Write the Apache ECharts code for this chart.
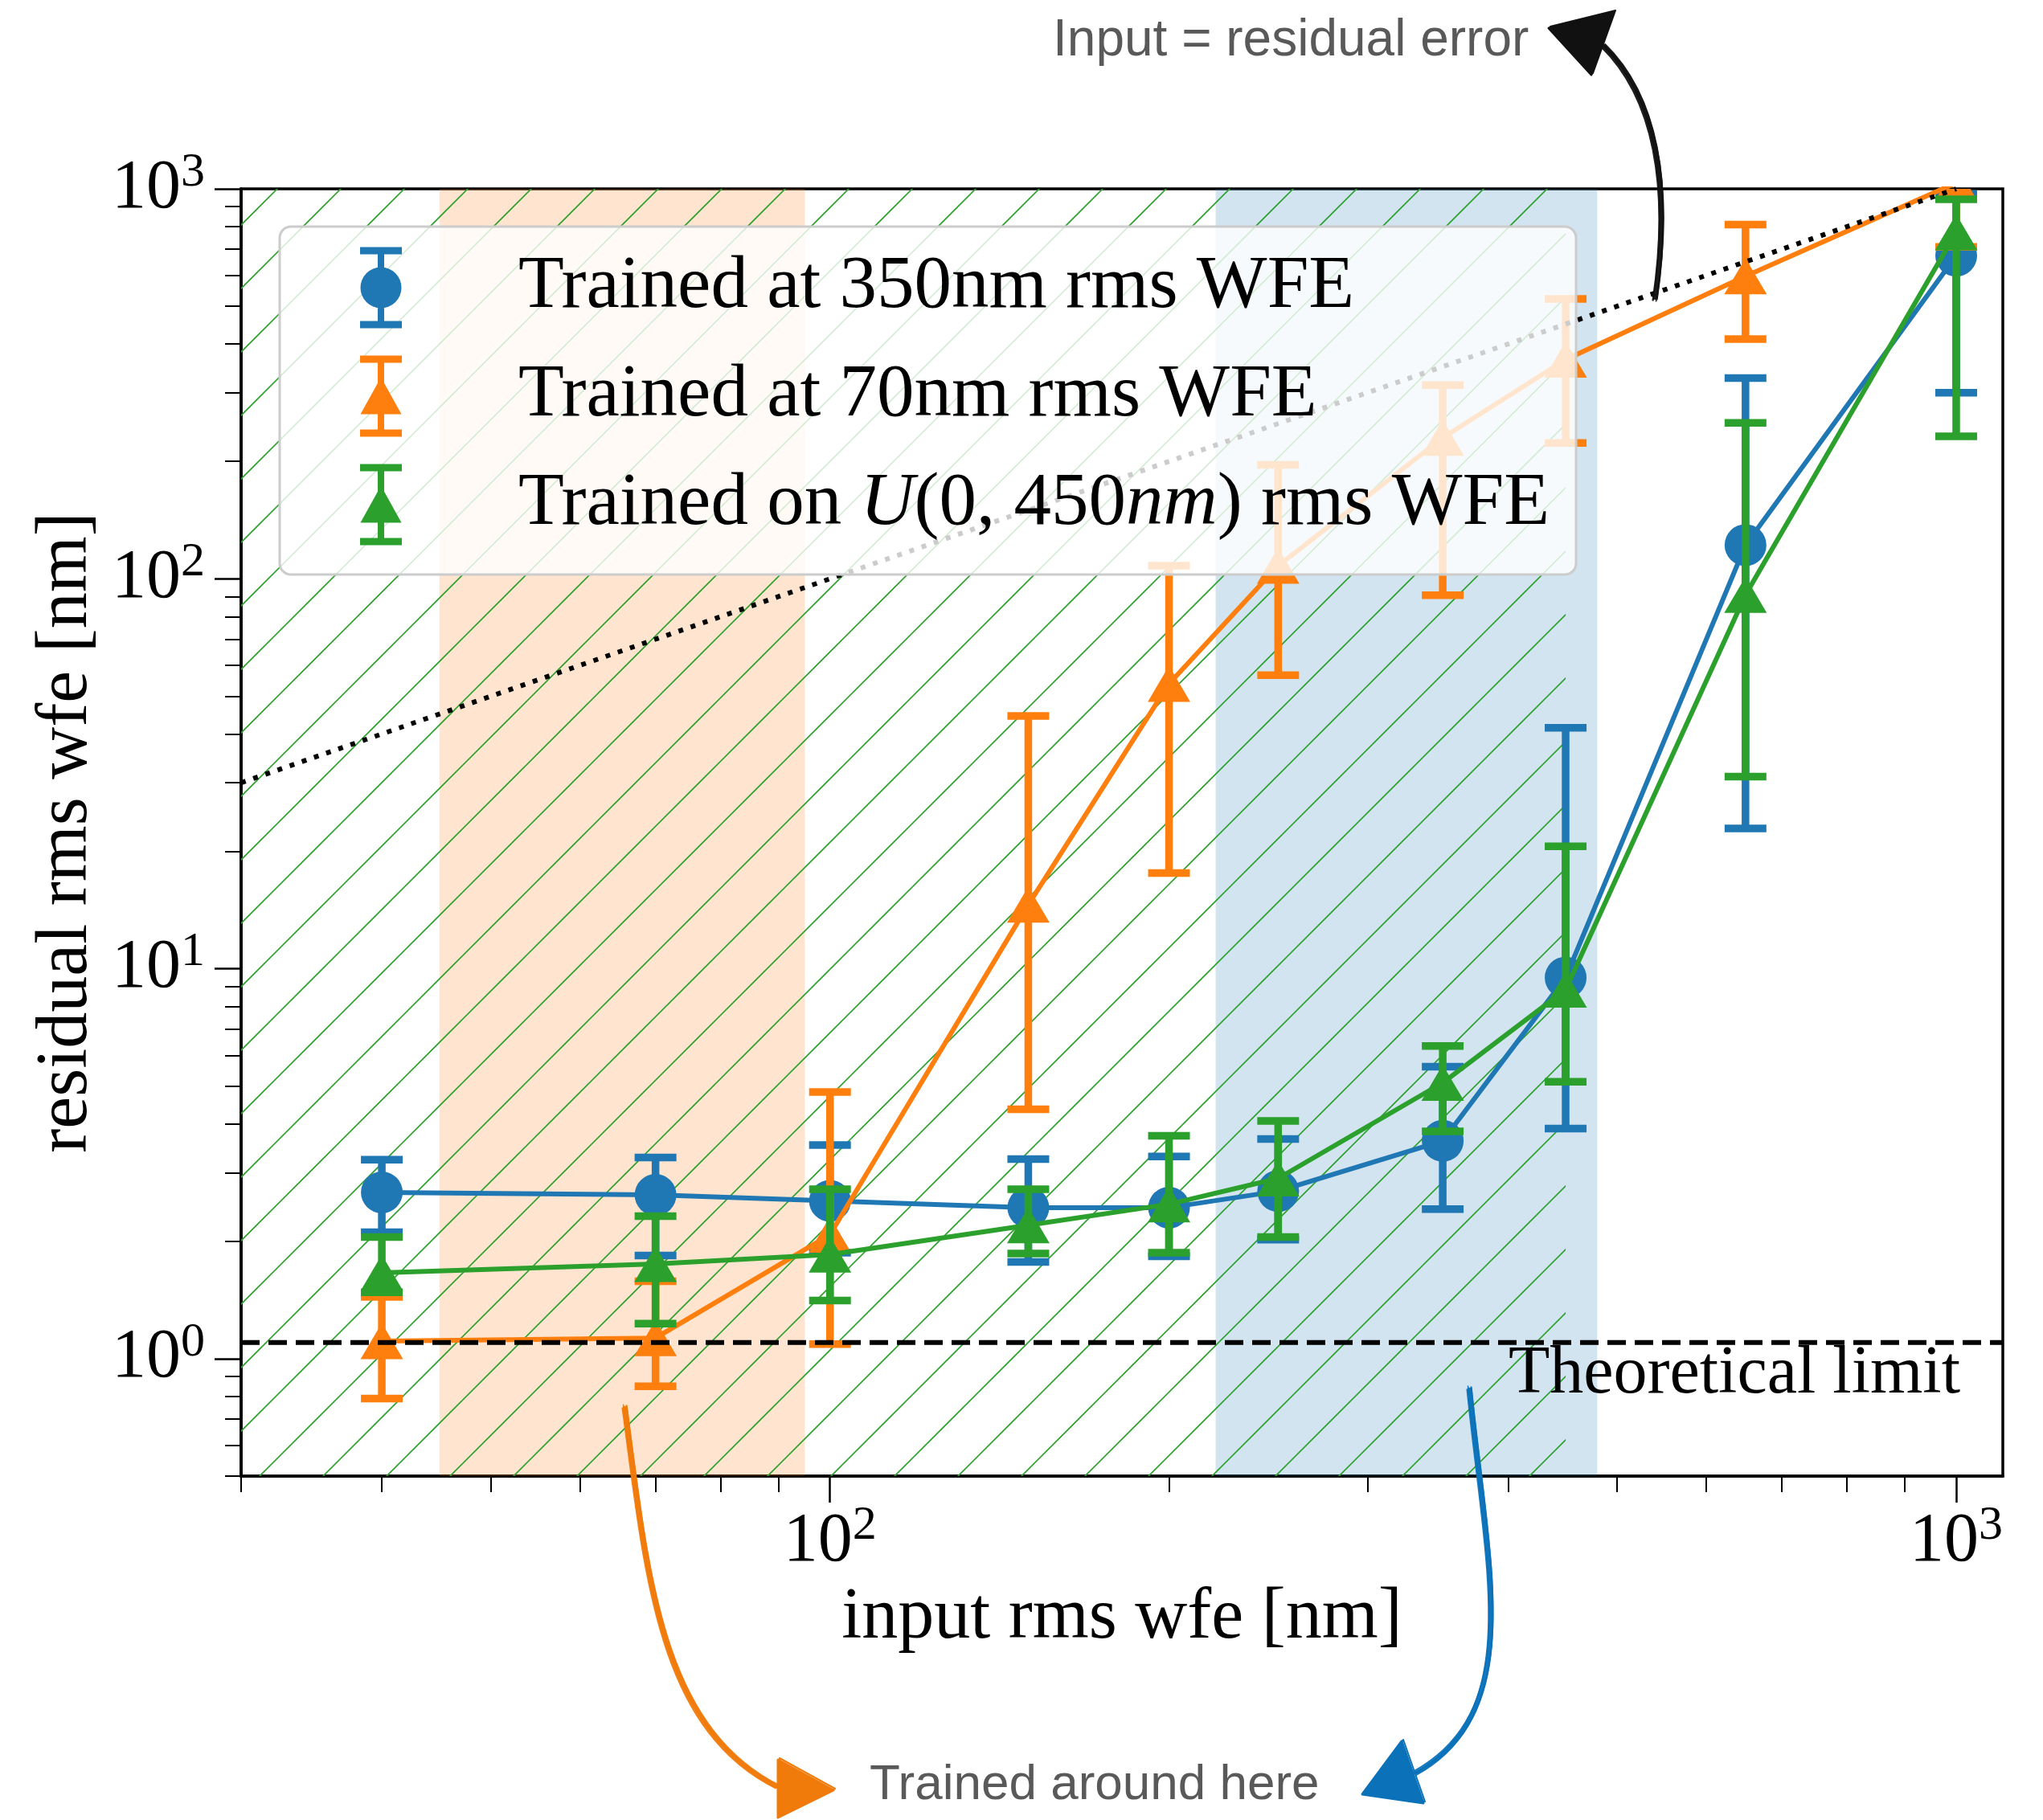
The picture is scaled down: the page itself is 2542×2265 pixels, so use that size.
<!DOCTYPE html>
<html><head><meta charset="utf-8">
<script src="https://cdn.jsdelivr.net/npm/echarts@6/dist/echarts.min.js"></script>
<style>html,body{margin:0;padding:0;background:#fff}#c{width:2542px;height:2265px}</style>
</head><body><div id="c"></div><script>
// ---------------- data ----------------
const inputWfe = [40, 70, 100, 150, 200, 250, 350, 450, 650, 1000];

const at350Mean = [2.67, 2.63, 2.54, 2.44, 2.44, 2.69, 3.62, 9.49, 122, 674];
const at350Low  = [2.11, 1.84, 1.87, 1.77, 1.83, 2.02, 2.42, 3.89, 22.9, 300];
const at350High = [3.24, 3.28, 3.53, 3.25, 3.30, 3.66, 5.61, 41.5, 327, 970];

const at70Mean = [1.11, 1.13, 2.08, 14.6, 53.8, 108, 230, 365, 597, 1036];
const at70Low  = [0.79, 0.85, 1.09, 4.36, 17.6, 56.6, 90.8, 223, 412, 710];
const at70High = [1.44, 1.58, 4.83, 44.5, 108, 196, 314, 522, 810, 1500];

const uniMean = [1.66, 1.75, 1.85, 2.20, 2.49, 2.90, 5.10, 8.84, 91, 774];
const uniLow  = [1.48, 1.23, 1.41, 1.86, 1.87, 2.05, 3.83, 5.13, 31.1, 232];
const uniHigh = [2.05, 2.32, 2.72, 2.72, 3.73, 4.07, 6.34, 20.6, 251, 940];

const seriesNames = ['Trained at 350nm rms WFE', 'Trained at 70nm rms WFE', 'Trained on U(0, 450nm) rms WFE'];

const xRange = [30, 1100];
const yRange = [0.5, 1000];
const xTickValues = [100, 1000];
const yTickValues = [1, 10, 100, 1000];
const xMinorTicks = [30, 40, 50, 60, 70, 80, 90, 200, 300, 400, 500, 600, 700, 800, 900];
const yMinorTicks = [0.5, 0.6, 0.7, 0.8, 0.9, 2, 3, 4, 5, 6, 7, 8, 9, 20, 30, 40, 50, 60, 70, 80, 90, 200, 300, 400, 500, 600, 700, 800, 900];

const band70 = [45, 95];
const band350 = [220, 480];
const bandUniform = [30, 450];
const limitValue = 1.1;
const limitX = [30, 1100];
const identityX = [30, 1000];

// ---------------- style ----------------
const BLUE = '#1f77b4', ORANGE = '#ff7f0e', GREEN = '#2ca02c';
const SERIF = '"Liberation Serif", "Times New Roman", serif';
const SANS = '"Liberation Sans", Arial, sans-serif';

function makeHatch() {
  const c = document.createElement('canvas');
  c.width = 79; c.height = 79;
  const g = c.getContext('2d');
  g.strokeStyle = GREEN; g.lineWidth = 1.6;
  g.beginPath();
  g.moveTo(-6, 33); g.lineTo(33, -6);
  g.moveTo(21, 85); g.lineTo(85, 21);
  g.stroke();
  return c;
}

function errorbarSeries(name, color, lo, hi, z) {
  return {
    type: 'custom', name, z, clip: true, silent: true,
    itemStyle: {color},
    data: inputWfe.map((x, i) => [x, lo[i], hi[i]]),
    encode: {x: 0, y: [1, 2]},
    renderItem: (params, api) => {
      const x = api.value(0);
      const a = api.coord([x, api.value(1)]);
      const b = api.coord([x, api.value(2)]);
      const st = {stroke: color, lineWidth: 9.5, fill: null};
      return {type: 'group', children: [
        {type: 'line', shape: {x1: a[0], y1: a[1], x2: b[0], y2: b[1]}, style: st},
        {type: 'line', shape: {x1: a[0] - 26, y1: a[1], x2: a[0] + 26, y2: a[1]}, style: st},
        {type: 'line', shape: {x1: b[0] - 26, y1: b[1], x2: b[0] + 26, y2: b[1]}, style: st}
      ]};
    }
  };
}
function lineSeries(id, color, ys, z) {
  return {
    type: 'line', name: id, z, clip: true, silent: true, symbol: 'none',
    lineStyle: {color, width: 6}, itemStyle: {color},
    data: inputWfe.map((x, i) => [x, ys[i]])
  };
}
function markerSeries(id, color, ys, shape, z) {
  return {
    type: 'custom', name: id, z, clip: true, silent: true,
    itemStyle: {color},
    data: inputWfe.map((x, i) => [x, ys[i]]),
    encode: {x: 0, y: 1},
    renderItem: (params, api) => {
      const p = api.coord([api.value(0), api.value(1)]);
      if (shape === 'circle') {
        return {type: 'circle', shape: {cx: p[0], cy: p[1], r: 26}, style: {fill: color}};
      }
      return {type: 'polygon', shape: {points: [[p[0], p[1] - 22.5], [p[0] + 26.5, p[1] + 22.5], [p[0] - 26.5, p[1] + 22.5]]}, style: {fill: color}};
    }
  };
}

const circIcon = 'path://M0 0H52V9H0Z M22 0H30V101H22Z M0 92H52V101H0Z M0.5 50.5A25.5 25.5 0 1 1 51.5 50.5A25.5 25.5 0 1 1 0.5 50.5Z';
const triIcon = 'path://M0 0H52V9H0Z M22 0H30V101H22Z M0 92H52V101H0Z M26 27L51.5 73L0.5 73Z';

function powLabel(v) {
  const n = Math.round(Math.log10(v));
  return '{b|10}{e|' + n + '}';
}
const labelRich = {
  b: {fontFamily: SERIF, fontSize: 86, lineHeight: 100, color: '#000'},
  e: {fontFamily: SERIF, fontSize: 60, lineHeight: 50, verticalAlign: 'top', color: '#000'}
};

function sketchArrow(color, curve, head) {
  const els = [];
  const offs = [[0, 0, 4.5], [2.5, -1.5, 2.2], [-2.5, 1.5, 2.2], [1.5, 2.5, 1.6], [-1.5, -2.5, 1.6], [3, 0.5, 1.2]];
  offs.forEach(o => {
    els.push({type: 'bezierCurve', z: 40, silent: true, x: o[0], y: o[1],
      shape: {x1: curve[0], y1: curve[1], cpx1: curve[2], cpy1: curve[3], cpx2: curve[4], cpy2: curve[5], x2: curve[6], y2: curve[7]},
      style: {stroke: color, lineWidth: o[2], fill: null, opacity: 0.95}});
  });
  els.push({type: 'polygon', z: 40, silent: true, shape: {points: head}, style: {fill: color, stroke: color, lineWidth: 3, lineJoin: 'round'}});
  els.push({type: 'polygon', z: 40, silent: true, x: 2, y: -2, shape: {points: head}, style: {fill: null, stroke: color, lineWidth: 2, lineJoin: 'round'}});
  return els;
}

const chart = echarts.init(document.getElementById('c'), null, {renderer: 'canvas'});
const hatch = makeHatch();

const option = {
  animation: false,
  backgroundColor: '#fff',
  grid: {left: 300, top: 235, width: 2192, height: 1602, show: true, borderColor: '#000', borderWidth: 3.5, backgroundColor: 'transparent'},
  xAxis: [
    {type: 'log', logBase: 10, min: xRange[0], max: xRange[1], position: 'bottom',
     name: 'input rms wfe [nm]', nameLocation: 'middle', nameGap: 132,
     nameTextStyle: {fontFamily: SERIF, fontSize: 90, color: '#000'},
     axisLine: {show: true, lineStyle: {color: '#000', width: 3.5}},
     axisTick: {show: true, customValues: xTickValues, length: 33, lineStyle: {color: '#000', width: 2.5}},
     axisLabel: {show: true, customValues: xTickValues, margin: 32, formatter: powLabel, rich: labelRich},
     splitLine: {show: false}, minorTick: {show: false}},
    {type: 'log', logBase: 10, min: xRange[0], max: xRange[1], position: 'bottom',
     axisLine: {show: false},
     axisTick: {show: true, customValues: xMinorTicks, length: 20, lineStyle: {color: '#000', width: 2}},
     axisLabel: {show: false}, splitLine: {show: false}}
  ],
  yAxis: [
    {type: 'log', logBase: 10, min: yRange[0], max: yRange[1], position: 'left',
     name: 'residual rms wfe [nm]', nameLocation: 'middle', nameGap: 172, nameRotate: 90,
     nameTextStyle: {fontFamily: SERIF, fontSize: 90, color: '#000'},
     axisLine: {show: true, lineStyle: {color: '#000', width: 3.5}},
     axisTick: {show: true, customValues: yTickValues, length: 33, lineStyle: {color: '#000', width: 2.5}},
     axisLabel: {show: true, customValues: yTickValues, margin: 45, formatter: powLabel, rich: labelRich},
     splitLine: {show: false}},
    {type: 'log', logBase: 10, min: yRange[0], max: yRange[1], position: 'left',
     axisLine: {show: false},
     axisTick: {show: true, customValues: yMinorTicks, length: 20, lineStyle: {color: '#000', width: 2}},
     axisLabel: {show: false}, splitLine: {show: false}}
  ],
  legend: {
    data: [{name: seriesNames[0], icon: circIcon}, {name: seriesNames[1], icon: triIcon}, {name: seriesNames[2], icon: triIcon}],
    orient: 'vertical', left: 448, top: 307.5, padding: 0,
    itemWidth: 52, itemHeight: 101, itemGap: 34, selectedMode: false, z: 60,
    itemStyle: {borderWidth: 0},
    textStyle: {fontFamily: SERIF, fontSize: 93, lineHeight: 100, color: '#000', padding: [0, 0, 0, 140],
      rich: {it: {fontFamily: SERIF, fontStyle: 'italic', fontSize: 93, lineHeight: 100, color: '#000'}}},
    formatter: name => name === seriesNames[2] ? 'Trained on {it|U}(0, 450{it|nm}) rms WFE' : name
  },
  graphic: [
    {type: 'rect', z: 50, silent: true, shape: {x: 348, y: 282, width: 1613, height: 433, r: 14},
     style: {fill: 'rgba(255,255,255,0.8)', stroke: '#cccccc', lineWidth: 3}},
    {type: 'text', z: 45, silent: true, x: 2439, y: 1711,
     style: {text: 'Theoretical limit', fontFamily: SERIF, fontSize: 84, fill: '#000', align: 'right', verticalAlign: 'middle'}},
    {type: 'text', z: 45, silent: true, x: 1310, y: 51,
     style: {text: 'Input = residual error', fontFamily: SANS, fontSize: 64, fill: '#595959', align: 'left', verticalAlign: 'middle'}},
    {type: 'text', z: 45, silent: true, x: 1082, y: 2222,
     style: {text: 'Trained around here', fontFamily: SANS, fontSize: 62, fill: '#595959', align: 'left', verticalAlign: 'middle'}},
    ...sketchArrow('#111111', [2059, 373, 2080, 230, 2060, 120, 1994, 56], [[1927, 35], [2008, 15], [1980, 93]]),
    ...sketchArrow('#f07a0a', [777, 1750, 805, 1960, 820, 2150, 968, 2224], [[968, 2190], [1037, 2228], [968, 2262]]),
    ...sketchArrow('#0b72b9', [1828, 1727, 1850, 1950, 1900, 2130, 1760, 2207], [[1744, 2167], [1695, 2233], [1771, 2244]])
  ],
  series: [
    {type: 'line', name: '_bands', z: 2, silent: true, data: [], symbol: 'none',
     markArea: {silent: true, data: [
       [{xAxis: band70[0], itemStyle: {color: 'rgba(255,127,14,0.2)', opacity: 1}}, {xAxis: band70[1]}],
       [{xAxis: band350[0], itemStyle: {color: 'rgba(31,119,180,0.2)', opacity: 1}}, {xAxis: band350[1]}],
       [{xAxis: bandUniform[0], itemStyle: {color: {image: hatch, repeat: 'repeat'}, opacity: 1}}, {xAxis: bandUniform[1]}]
     ]}},
    errorbarSeries(seriesNames[0], BLUE, at350Low, at350High, 10),
    lineSeries('_l350', BLUE, at350Mean, 11),
    markerSeries('_m350', BLUE, at350Mean, 'circle', 12),
    errorbarSeries(seriesNames[1], ORANGE, at70Low, at70High, 13),
    lineSeries('_l70', ORANGE, at70Mean, 14),
    markerSeries('_m70', ORANGE, at70Mean, 'triangle', 15),
    errorbarSeries(seriesNames[2], GREEN, uniLow, uniHigh, 16),
    lineSeries('_lu', GREEN, uniMean, 17),
    markerSeries('_mu', GREEN, uniMean, 'triangle', 18),
    {type: 'line', name: '_identity', z: 20, silent: true, symbol: 'none', clip: true,
     lineStyle: {color: '#000', width: 6, type: [6, 10]},
     data: identityX.map(v => [v, v])},
    {type: 'line', name: '_limit', z: 20, silent: true, symbol: 'none', clip: true,
     lineStyle: {color: '#000', width: 6, type: [23, 11]},
     data: limitX.map(v => [v, limitValue])}
  ]
};
chart.setOption(option);
</script></body></html>
